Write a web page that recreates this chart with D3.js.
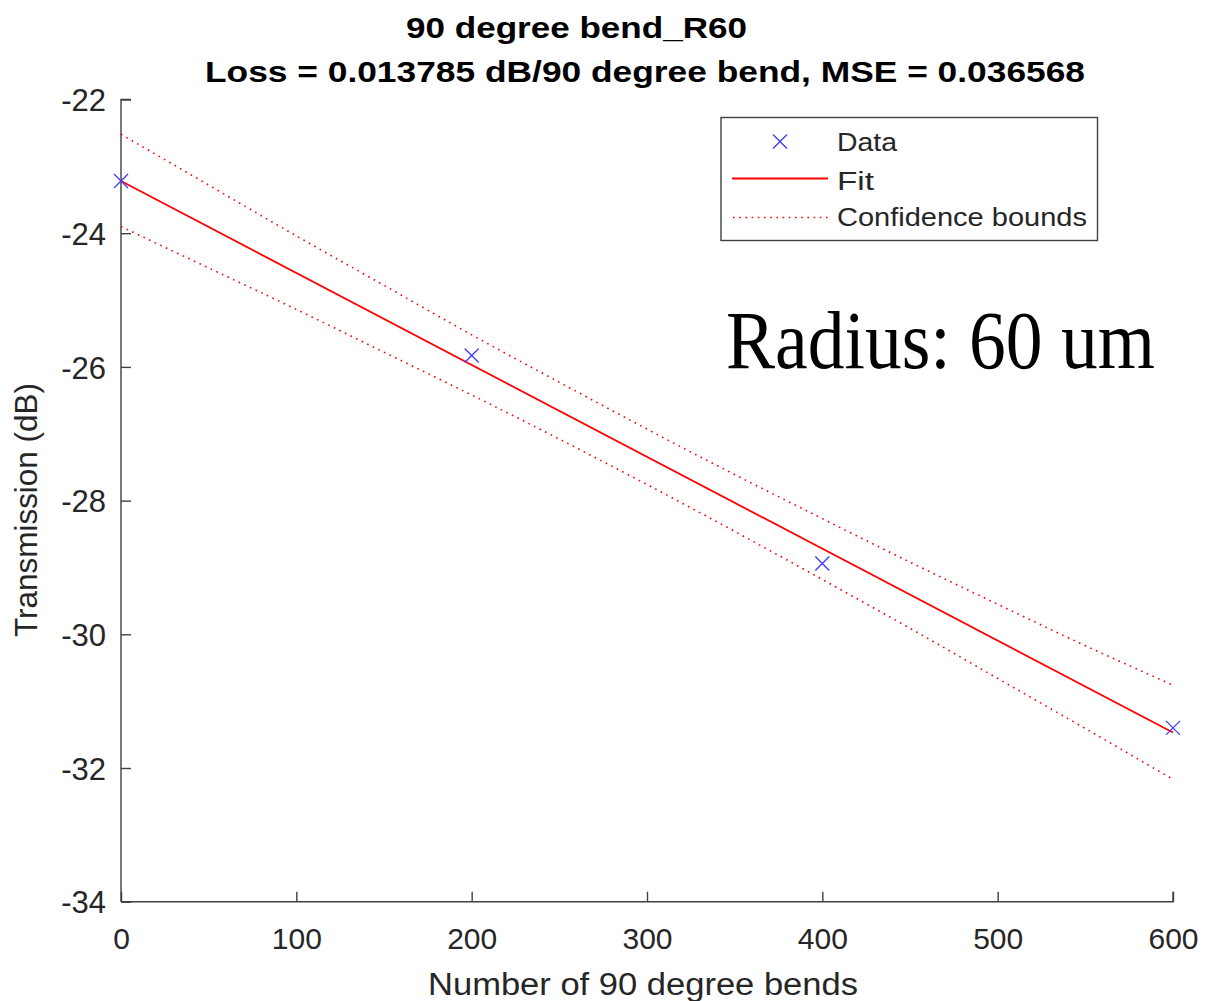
<!DOCTYPE html>
<html>
<head>
<meta charset="utf-8">
<script src="https://cdn.jsdelivr.net/npm/d3@7"></script>
<style>
  body { margin: 0; background: #fff; }
  svg { display: block; }
  .sans { font-family: "Liberation Sans", Arial, Helvetica, sans-serif; }
  .serif { font-family: "Liberation Serif", "Times New Roman", serif; }
</style>
</head>
<body>
<svg id="chart" width="1208" height="1001" class="sans"></svg>
<script>
// ---- data ----
const dataX = [0, 200, 400, 600];
const dataY = [-23.22, -25.83, -28.94, -31.40];

const fitX = [0, 600];
const fitY = [-23.22, -31.47];

const boundX = [0, 50, 100, 150, 200, 250, 300, 350, 400, 450, 500, 550, 600];
const upperY = [-22.52, -23.28, -24.04, -24.78, -25.52, -26.23, -26.93, -27.61, -28.27, -28.92, -29.55, -30.17, -30.76];
const lowerY = [-23.90, -24.52, -25.14, -25.78, -26.42, -27.08, -27.76, -28.46, -29.18, -29.91, -30.66, -31.41, -32.17];

const xTicks = [0, 100, 200, 300, 400, 500, 600];
const yTicks = [-34, -32, -30, -28, -26, -24, -22];

const titleLine1 = "90 degree bend_R60";
const titleLine2 = "Loss = 0.013785 dB/90 degree bend, MSE = 0.036568";
const xLabel = "Number of 90 degree bends";
const yLabel = "Transmission (dB)";
const annotation = "Radius: 60 um";
const legendLabels = ["Data", "Fit", "Confidence bounds"];

// ---- layout ----
const svg = d3.select("#chart");
const x = d3.scaleLinear().domain([0, 600]).range([121, 1173]);
const y = d3.scaleLinear().domain([-34, -22]).range([901.7, 99.5]);
const axisColor = "#404040";
const textColor = "#262626";

// axes (MATLAB-style: ticks inside, no top/right box)
const gx = svg.append("g").attr("transform", `translate(0,${y(-34)})`)
  .call(d3.axisBottom(x).tickValues(xTicks).tickSize(-10).tickPadding(0).tickFormat(d3.format("d")));
gx.attr("font-family", null);
gx.select(".domain").attr("stroke", axisColor).attr("stroke-width", 1.4)
  .attr("d", `M${x(0)},0H${x(600)}V-10`);
gx.selectAll(".tick line").attr("stroke", axisColor).attr("stroke-width", 1.4);
gx.selectAll(".tick text").attr("fill", textColor).attr("font-size", 30)
  .attr("y", 47).attr("dy", 0).text(d => d3.format("d")(d));

const gy = svg.append("g").attr("transform", `translate(${x(0)},0)`)
  .call(d3.axisLeft(y).tickValues(yTicks).tickSize(-10).tickPadding(0));
gy.attr("font-family", null);
gy.select(".domain").attr("stroke", axisColor).attr("stroke-width", 1.4)
  .attr("d", `M10,${y(-22)}H0V${y(-34)}`);
gy.selectAll(".tick line").attr("stroke", axisColor).attr("stroke-width", 1.4);
gy.selectAll(".tick text").attr("fill", textColor).attr("font-size", 31)
  .attr("x", -15).attr("dy", "0.36em").text(d => String(d));

// confidence bounds
const line = d3.line().x(d => x(d[0])).y(d => y(d[1])).curve(d3.curveNatural);
[upperY, lowerY].forEach(arr => {
  svg.append("path")
    .attr("d", line(boundX.map((v, i) => [v, arr[i]])))
    .attr("fill", "none").attr("stroke", "#ff0000").attr("stroke-width", 1.6)
    .attr("stroke-dasharray", "1.6,4.6");
});

// fit line
svg.append("path")
  .attr("d", d3.line().x(d => x(d[0])).y(d => y(d[1]))(fitX.map((v, i) => [v, fitY[i]])))
  .attr("fill", "none").attr("stroke", "#ff0000").attr("stroke-width", 1.8);

// data markers (x)
const m = 7;
const markerPath = (cx, cy) => `M${cx - m},${cy - m}L${cx + m},${cy + m}M${cx - m},${cy + m}L${cx + m},${cy - m}`;
svg.append("g").selectAll("path").data(dataX.map((v, i) => [v, dataY[i]])).join("path")
  .attr("d", d => markerPath(x(d[0]), y(d[1])))
  .attr("stroke", "#3a3aff").attr("stroke-width", 1.3).attr("fill", "none");

// titles
svg.append("text").attr("x", 406).attr("y", 38).attr("font-size", 30).attr("font-weight", "bold")
  .attr("fill", "#000").attr("textLength", 341).attr("lengthAdjust", "spacingAndGlyphs").text(titleLine1);
svg.append("text").attr("x", 205).attr("y", 82).attr("font-size", 30).attr("font-weight", "bold")
  .attr("fill", "#000").attr("textLength", 880).attr("lengthAdjust", "spacingAndGlyphs").text(titleLine2);

// axis labels
svg.append("text").attr("x", 643).attr("y", 995).attr("text-anchor", "middle").attr("font-size", 31)
  .attr("fill", textColor).attr("textLength", 430).attr("lengthAdjust", "spacingAndGlyphs").text(xLabel);
svg.append("text").attr("transform", "translate(37,510) rotate(-90)").attr("text-anchor", "middle")
  .attr("font-size", 31).attr("fill", textColor).attr("textLength", 254).attr("lengthAdjust", "spacingAndGlyphs").text(yLabel);

// annotation
svg.append("text").attr("class", "serif").attr("x", 726).attr("y", 368).attr("font-size", 82)
  .attr("fill", "#000")
  .attr("textLength", 429).attr("lengthAdjust", "spacingAndGlyphs").text(annotation);

// legend
const lg = svg.append("g");
lg.append("rect").attr("x", 721).attr("y", 117.5).attr("width", 376.5).attr("height", 123)
  .attr("fill", "#fff").attr("stroke", axisColor).attr("stroke-width", 1.4);
lg.append("path").attr("d", markerPath(780, 141.5)).attr("stroke", "#3a3aff").attr("stroke-width", 1.3);
lg.append("line").attr("x1", 732).attr("x2", 828).attr("y1", 178.5).attr("y2", 178.5)
  .attr("stroke", "#ff0000").attr("stroke-width", 1.8);
lg.append("line").attr("x1", 733).attr("x2", 828).attr("y1", 217.5).attr("y2", 217.5)
  .attr("stroke", "#ff0000").attr("stroke-width", 1.6).attr("stroke-dasharray", "1.6,4.6");
const legY = [150.5, 190, 226];
const legW = [60, 37, 250];
legendLabels.forEach((t, i) => {
  lg.append("text").attr("x", 837).attr("y", legY[i]).attr("font-size", 25).attr("fill", textColor)
    .attr("textLength", legW[i]).attr("lengthAdjust", "spacingAndGlyphs").text(t);
});
</script>
</body>
</html>
